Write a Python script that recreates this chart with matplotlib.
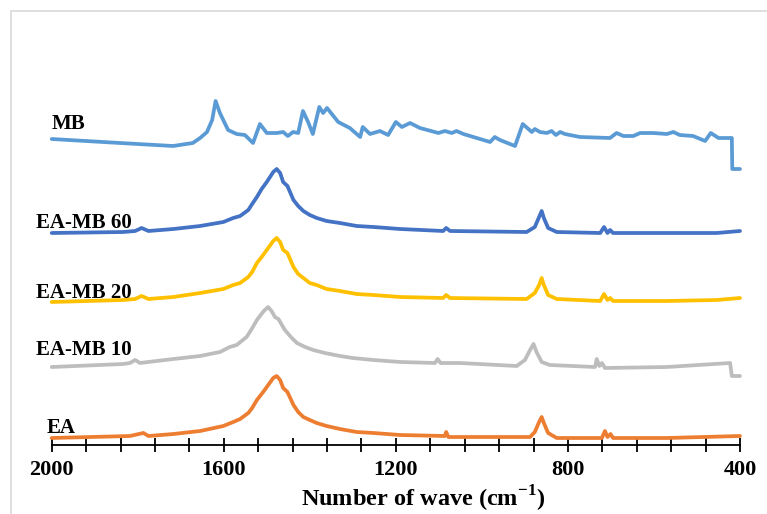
import matplotlib
matplotlib.use('Agg')
import matplotlib.pyplot as plt
import matplotlib.ticker as tick
from matplotlib.patches import Rectangle

plt.rcParams['font.family'] = ['Liberation Serif', 'DejaVu Serif']
plt.rcParams['font.weight'] = 'bold'
plt.rcParams['mathtext.fontset'] = 'custom'
plt.rcParams['mathtext.rm'] = 'Liberation Serif:bold'
plt.rcParams['mathtext.bf'] = 'Liberation Serif:bold'

# wavenumbers (cm-1) and stacked intensities (a.u., offset per sample)
mb_wn = [2000, 1841, 1718, 1672, 1655, 1639, 1627, 1619, 1609, 1590, 1570, 1551,
         1532, 1516, 1500, 1477, 1462, 1451, 1439, 1427, 1416, 1404, 1393, 1378,
         1369, 1360, 1334, 1307, 1283, 1277, 1260, 1237, 1218, 1200, 1186, 1167,
         1144, 1101, 1086, 1070, 1059, 1043, 981, 970, 958, 923, 905, 884, 877,
         865, 849, 838, 828, 818, 807, 772, 702, 687, 671, 648, 632, 602, 570,
         555, 540, 509, 481, 468, 450, 431, 419, 418, 400]
mb_y = [3.06, 3.02, 2.99, 3.02, 3.07, 3.13, 3.25, 3.44, 3.32, 3.15, 3.11, 3.10,
        3.02, 3.21, 3.12, 3.12, 3.13, 3.09, 3.13, 3.12, 3.34, 3.23, 3.11, 3.38,
        3.32, 3.37, 3.23, 3.17, 3.08, 3.18, 3.11, 3.14, 3.10, 3.23, 3.18, 3.22,
        3.17, 3.12, 3.14, 3.12, 3.14, 3.11, 3.03, 3.08, 3.05, 2.99, 3.21, 3.13,
        3.16, 3.13, 3.12, 3.14, 3.10, 3.13, 3.11, 3.08, 3.07, 3.12, 3.09, 3.09,
        3.12, 3.12, 3.11, 3.13, 3.10, 3.09, 3.04, 3.12, 3.07, 3.07, 3.07, 2.76,
        2.76]

ea_wn = [2000, 1834, 1806, 1791, 1775, 1717, 1655, 1601, 1578, 1562,
         1543, 1534, 1523, 1512, 1500, 1485, 1477, 1469, 1462, 1452,
         1438, 1427, 1415, 1400, 1384, 1361, 1330, 1291, 1252, 1190,
         1090, 1083, 1074, 896, 877, 867, 861, 856, 846, 826,
         725, 716, 708, 702, 695, 570, 454, 400]
mb60_y = [2.12, 2.13, 2.14, 2.17, 2.14, 2.16, 2.19, 2.23, 2.27, 2.29,
          2.35, 2.41, 2.48, 2.56, 2.63, 2.73, 2.76, 2.72, 2.63, 2.59,
          2.45, 2.39, 2.34, 2.30, 2.27, 2.24, 2.22, 2.19, 2.18, 2.16,
          2.14, 2.17, 2.14, 2.13, 2.18, 2.28, 2.34, 2.27, 2.17, 2.13,
          2.12, 2.18, 2.12, 2.15, 2.12, 2.12, 2.12, 2.14]
mb20_y = [1.43, 1.45, 1.46, 1.49, 1.46, 1.48, 1.52, 1.56, 1.60, 1.62,
          1.68, 1.73, 1.82, 1.88, 1.95, 2.04, 2.07, 2.03, 1.95, 1.92,
          1.78, 1.71, 1.67, 1.62, 1.60, 1.56, 1.54, 1.51, 1.50, 1.48,
          1.47, 1.50, 1.47, 1.46, 1.52, 1.60, 1.67, 1.60, 1.50, 1.46,
          1.44, 1.51, 1.45, 1.47, 1.44, 1.44, 1.45, 1.47]

mb10_wn = [2000, 1834, 1818, 1806, 1795, 1717, 1655, 1609, 1586, 1570,
           1547, 1535, 1523, 1507, 1497, 1489, 1481, 1473, 1458, 1444,
           1430, 1411, 1392, 1365, 1330, 1300, 1252, 1190, 1109, 1103,
           1096, 1051, 919, 900, 888, 880, 873, 861, 842, 737,
           733, 727, 721, 714, 570, 423, 419, 400]
mb10_y = [0.78, 0.81, 0.82, 0.85, 0.82, 0.86, 0.89, 0.93, 0.98, 1.00,
          1.08, 1.16, 1.25, 1.34, 1.38, 1.34, 1.28, 1.26, 1.15, 1.08,
          1.02, 0.98, 0.95, 0.92, 0.89, 0.87, 0.85, 0.83, 0.82, 0.86,
          0.82, 0.82, 0.79, 0.85, 0.95, 1.01, 0.93, 0.83, 0.80, 0.78,
          0.86, 0.79, 0.82, 0.77, 0.78, 0.82, 0.69, 0.69]

pure_wn = [2000, 1818, 1787, 1775, 1717, 1655, 1601, 1578, 1562, 1543,
           1534, 1523, 1512, 1500, 1485, 1477, 1469, 1462, 1452, 1438,
           1427, 1415, 1400, 1384, 1361, 1330, 1291, 1252, 1190, 1086,
           1083, 1078, 888, 877, 867, 861, 856, 846, 826, 721,
           714, 708, 701, 695, 570, 400]
pure_y = [0.07, 0.09, 0.12, 0.09, 0.11, 0.14, 0.19, 0.23, 0.26, 0.32,
          0.37, 0.45, 0.51, 0.58, 0.67, 0.69, 0.65, 0.57, 0.53, 0.40,
          0.33, 0.28, 0.25, 0.22, 0.19, 0.16, 0.13, 0.12, 0.10, 0.09,
          0.13, 0.08, 0.08, 0.13, 0.23, 0.28, 0.22, 0.12, 0.07, 0.07,
          0.14, 0.08, 0.11, 0.07, 0.07, 0.09]

series = [
    ('MB', mb_wn, mb_y, '#5B9BD5', 2000, 3.16),
    ('EA-MB 60', ea_wn, mb60_y, '#4472C4', 2036, 2.17),
    ('EA-MB 20', ea_wn, mb20_y, '#FFC000', 2036, 1.47),
    ('EA-MB 10', mb10_wn, mb10_y, '#BDBDBD', 2036, 0.90),
    ('EA', pure_wn, pure_y, '#ED7D31', 2011, 0.12),
]

fig = plt.figure(figsize=(7.67, 5.14), dpi=100)
ax = fig.add_axes([51.7 / 767, 69 / 514, 688.3 / 767, 400 / 514])

for name, wn, y, color, lx, ly in series:
    ax.plot(wn, y, color=color, lw=2.7, solid_joinstyle='round',
            solid_capstyle='round', clip_on=False)
    ax.text(lx, ly, name, fontsize=15, fontweight='bold', va='baseline',
            ha='left')

ax.set_xlim(2000, 400)
ax.set_ylim(0, 4.0)
ax.xaxis.set_major_locator(tick.MultipleLocator(400))
ax.xaxis.set_minor_locator(tick.MultipleLocator(80))
ax.tick_params(axis='x', which='both', direction='inout', length=10,
               width=1.3, color='black')
ax.tick_params(axis='x', which='major', labelsize=16, pad=6)
ax.set_yticks([])
for side in ['left', 'right', 'top']:
    ax.spines[side].set_visible(False)
ax.spines['bottom'].set_linewidth(1.3)
ax.patch.set_alpha(0)

ax.set_xlabel(r'Number of wave (cm$^{-1}$)', fontsize=17.5, fontweight='bold')
ax.xaxis.set_label_coords(0.54, -0.098)
ax.xaxis.label.set_va('top')

# chart-area border
fig.add_artist(Rectangle((11 / 767, -0.2), 1.2, 1.2 - 11 / 514,
                         transform=fig.transFigure, fill=False,
                         edgecolor='#D9D9D9', lw=1.2, zorder=0))

fig.savefig('out.png', dpi=100)
